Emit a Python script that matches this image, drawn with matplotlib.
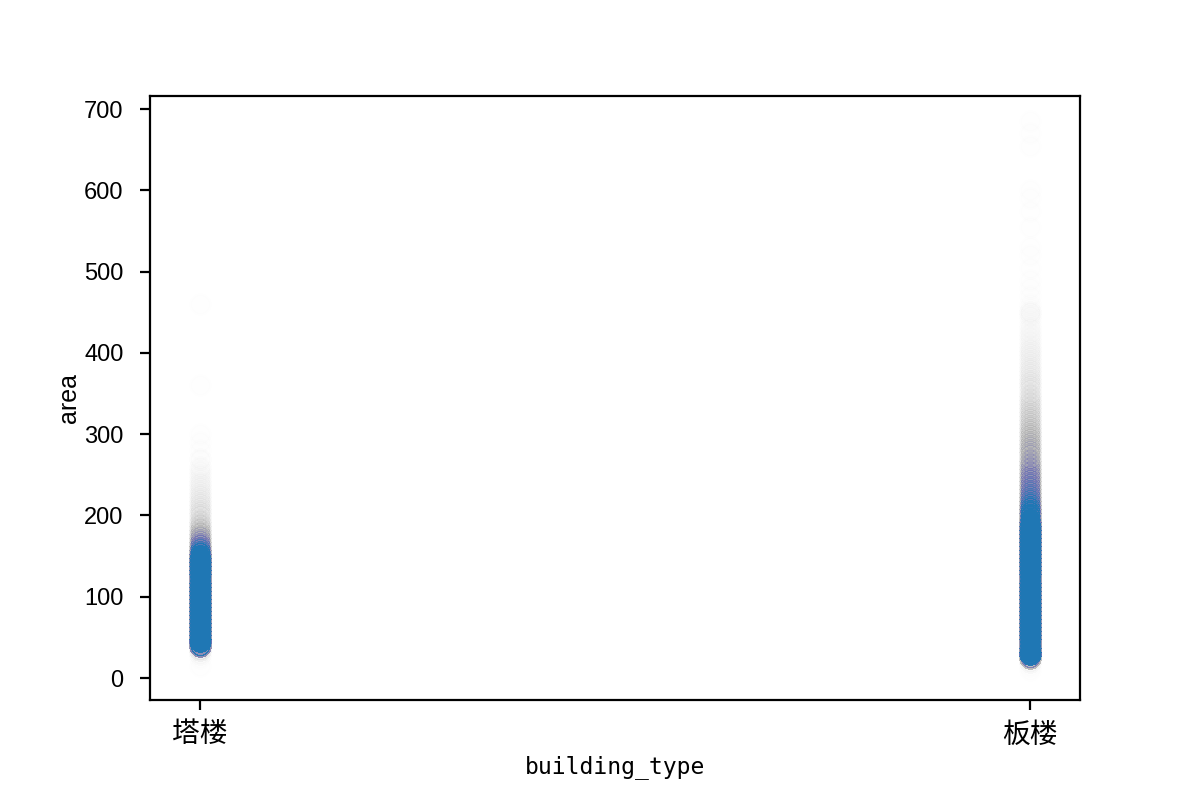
import matplotlib
matplotlib.use('Agg')
import matplotlib.pyplot as plt
import numpy as np
import pandas as pd

plt.rcParams['font.family'] = ['Liberation Sans', 'Noto Sans CJK SC']

# building types on the x axis
categories = ['塔楼', '板楼']

# 塔楼: area values (m2) and how many listings sit at each value
tower_area = [15, 25, 30, 35, 40, 45, 50, 55, 60, 65, 70, 75, 80, 85, 90,
              95, 100, 105, 110, 115, 120, 125, 130, 135, 140, 145, 150,
              155, 160, 165, 170, 175, 180, 185, 190, 195, 200, 205, 210,
              215, 220, 225, 230, 235, 240, 245, 250, 255, 260, 270, 280,
              290, 300, 360, 460]
tower_count = [1, 1, 3, 10, 100, 150, 100, 100, 100, 100, 100, 100, 100, 100,
               100, 100, 100, 100, 100, 100, 100, 100, 100, 100, 100, 100, 80,
               55, 40, 30, 22, 20, 15, 12, 10, 8, 7, 6, 5,
               5, 4, 4, 3, 3, 3, 2, 2, 2, 2, 2, 1,
               1, 1, 1, 1]

# 板楼
slab_area = [10, 15, 20, 25, 30, 35, 40, 45, 50, 55, 60, 65, 70, 75, 80, 85,
             90, 95, 100, 105, 110, 115, 120, 125, 130, 135, 140, 145, 150,
             155, 160, 165, 170, 175, 180, 185, 190, 195, 200, 205, 210, 215,
             220, 225, 230, 235, 240, 245, 250, 255, 260, 265, 270, 275, 280,
             285, 290, 295, 300, 305, 310, 315, 320, 325, 330, 335, 340, 345,
             350, 355, 360, 365, 370, 375, 380, 385, 390, 395, 400, 405, 410,
             415, 420, 425, 430, 435, 440, 445, 450, 455, 460, 470, 480, 490,
             505, 520, 530, 555, 575, 590, 600, 655, 670, 685]
slab_count = [1, 1, 5, 60, 150, 100, 100, 100, 100, 100, 100, 100, 100, 100,
              100, 100, 100, 100, 100, 100, 100, 100, 100, 100, 100, 100, 100,
              100, 100, 100, 100, 100, 100, 100, 100, 100, 80, 65, 55, 48, 42,
              36, 32, 29, 27, 25, 24, 23, 22, 20, 19, 18, 17, 16, 15, 14, 13,
              12, 12, 11, 10, 9, 9, 8, 8, 7, 7, 6, 6, 5, 5, 5, 4, 4, 4, 3, 3,
              3, 3, 3, 2, 2, 2, 2, 2, 1, 1, 2, 3, 1, 1, 1, 1, 1, 1, 1, 1, 1, 1,
              1, 1, 1, 1, 1]

df = pd.DataFrame({
    'building_type': np.repeat(categories[0], sum(tower_count)).tolist()
    + np.repeat(categories[1], sum(slab_count)).tolist(),
    'area': np.repeat(tower_area, tower_count).tolist()
    + np.repeat(slab_area, slab_count).tolist(),
})
xpos = df['building_type'].map({c: i for i, c in enumerate(categories)})

fig, ax = plt.subplots(figsize=(6, 4), dpi=200)
fig.subplots_adjust(left=0.125, right=0.9, top=0.88, bottom=0.125)

# very low alpha -> overlapping points build up from grey to blue
ax.scatter(xpos, df['area'], s=50, c='#1f77b4', alpha=0.004)

ax.set_xlim(-0.06, 1.06)
ax.set_ylim(-27, 716)
ax.set_xticks(range(len(categories)))
ax.set_xticklabels(categories, family=['Noto Sans CJK SC'], fontsize=10)
ax.set_yticks(range(0, 701, 100))
ax.tick_params(axis='y', labelsize=8.5, pad=6)

ax.set_xlabel('building_type', family='DejaVu Sans Mono', fontsize=8.3,
              labelpad=2)
ax.set_ylabel('area', fontsize=9, labelpad=1)

plt.savefig('out.png', dpi=200)
